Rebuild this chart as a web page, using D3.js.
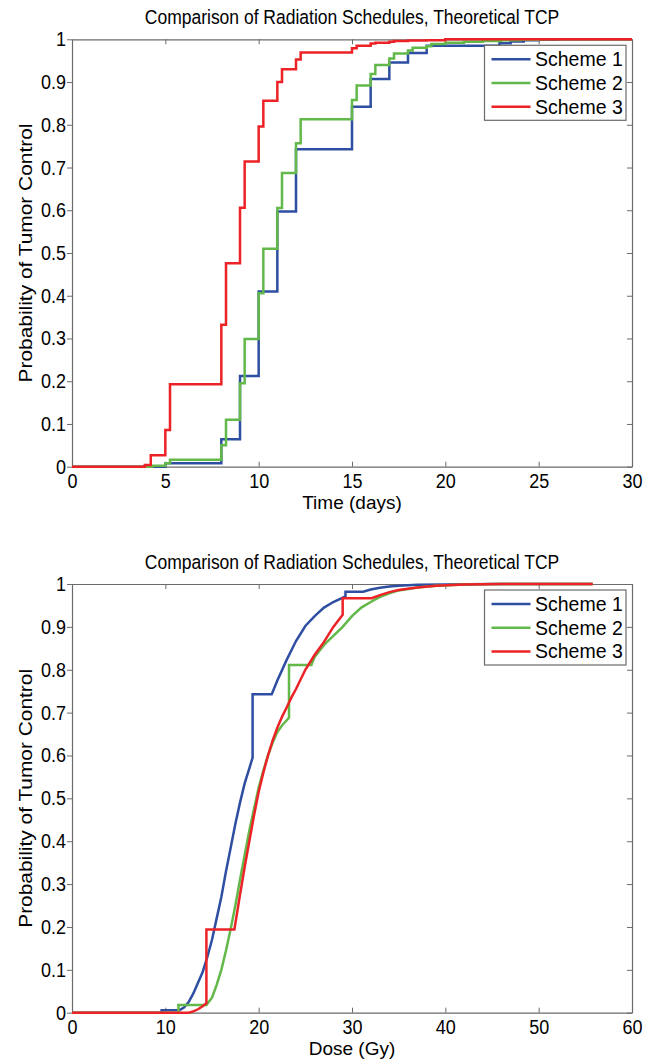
<!DOCTYPE html>
<html>
<head>
<meta charset="utf-8">
<script src="https://cdn.jsdelivr.net/npm/d3@7"></script>
<style>
  body { margin: 0; background: #fff; }
  svg text { font-family: "Liberation Sans", Arial, Helvetica, sans-serif; fill: #000; }
</style>
</head>
<body>
<svg id="chart" width="655" height="1060"></svg>
<script>
'use strict';

// ---- data ----
const titleText = 'Comparison of Radiation Schedules, Theoretical TCP';
const schemeNames = ['Scheme 1', 'Scheme 2', 'Scheme 3'];
const schemeColors = ['#2e4ea2', '#62b848', '#ec2227'];
const yTicks = [0, 0.1, 0.2, 0.3, 0.4, 0.5, 0.6, 0.7, 0.8, 0.9, 1];
const timeTicks = [0, 5, 10, 15, 20, 25, 30];
const doseTicks = [0, 10, 20, 30, 40, 50, 60];

// top panel: step functions over time (days)
const time1 = [0, 5.0, 8.0, 9.0, 10.0, 11.0, 12.0, 15.0, 16.0, 17.0, 18.0, 19.0, 22.9, 23.5, 24.2, 25.0, 26.0, 30];
const tcpTime1 = [0, 0.008, 0.064, 0.212, 0.41, 0.597, 0.743, 0.842, 0.907, 0.946, 0.968, 0.985, 0.991, 0.995, 0.998, 0.999, 1.0, 1.0];
const time2 = [0, 4.3, 5.0, 5.25, 8.0, 8.25, 9.0, 9.25, 10.0, 10.25, 11.0, 11.25, 12.0, 12.25, 15.0, 15.25, 16.0, 16.25, 17.0, 17.25, 18.0, 18.25, 19.0, 19.25, 20.0, 21.0, 22.0, 23.0, 24.0, 25.0, 30];
const tcpTime2 = [0, 0.002, 0.008, 0.016, 0.05, 0.11, 0.195, 0.299, 0.406, 0.51, 0.605, 0.687, 0.757, 0.813, 0.858, 0.892, 0.919, 0.940, 0.955, 0.967, 0.974, 0.980, 0.984, 0.989, 0.992, 0.994, 0.996, 0.998, 0.999, 1.0, 1.0];
const time3 = [0, 3.9, 4.22, 5.0, 5.25, 8.0, 8.25, 9.0, 9.25, 10.0, 10.25, 11.0, 11.25, 12.0, 12.25, 15.0, 15.25, 16.0, 16.25, 17.0, 17.25, 18.0, 19.0, 20.0, 30];
const tcpTime3 = [0, 0.004, 0.027, 0.086, 0.193, 0.332, 0.476, 0.606, 0.714, 0.796, 0.856, 0.900, 0.930, 0.953, 0.969, 0.979, 0.985, 0.990, 0.992, 0.9945, 0.996, 0.997, 0.998, 1.0, 1.0];

// bottom panel: TCP over dose (Gy), repeated x = jump
const dose1 = [0, 9.6, 9.6, 11.5, 12.0, 12.5, 13.0, 13.5, 14.0, 14.5, 15.0, 15.5, 16.0, 16.5, 17.0, 17.5, 18.0, 18.5, 19.0, 19.35, 19.35, 21.4, 22.0, 23.0, 24.0, 25.0, 26.0, 27.0, 28.0, 29.3, 29.3, 31.2, 32.0, 33.0, 34.0, 35.0, 37.0, 40.0, 45.0, 55.7];
const tcpDose1 = [0, 0, 0.006, 0.006, 0.012, 0.025, 0.045, 0.07, 0.095, 0.13, 0.17, 0.22, 0.27, 0.33, 0.385, 0.44, 0.49, 0.535, 0.57, 0.595, 0.743, 0.743, 0.775, 0.823, 0.867, 0.902, 0.925, 0.945, 0.958, 0.971, 0.982, 0.982, 0.987, 0.991, 0.994, 0.996, 0.998, 0.999, 1.0, 1.0];
const dose2 = [0, 11.4, 11.4, 14.4, 14.5, 15.0, 15.5, 16.0, 16.5, 17.0, 17.5, 18.0, 18.5, 19.0, 19.5, 20.0, 20.5, 21.0, 21.5, 22.0, 22.5, 23.25, 23.25, 25.65, 26.0, 27.0, 28.0, 29.0, 30.0, 31.0, 32.0, 33.0, 34.0, 35.0, 37.0, 39.0, 42.0, 46.0, 55.8];
const tcpDose2 = [0, 0, 0.018, 0.018, 0.021, 0.035, 0.065, 0.1, 0.145, 0.195, 0.25, 0.31, 0.368, 0.425, 0.475, 0.525, 0.565, 0.6, 0.63, 0.655, 0.67, 0.688, 0.811, 0.811, 0.83, 0.858, 0.879, 0.9, 0.925, 0.945, 0.958, 0.97, 0.978, 0.985, 0.992, 0.996, 0.999, 1.0, 1.0];
const dose3 = [0, 12.5, 13.0, 13.5, 14.0, 14.4, 14.4, 17.4, 18.0, 18.5, 19.0, 19.5, 20.0, 20.5, 21.0, 21.5, 22.0, 22.5, 23.0, 23.5, 24.0, 25.0, 26.0, 27.0, 28.0, 29.0, 29.0, 32.1, 33.0, 34.0, 35.0, 37.0, 39.0, 42.0, 46.0, 55.8];
const tcpDose3 = [0, 0, 0.003, 0.008, 0.015, 0.022, 0.194, 0.194, 0.275, 0.34, 0.4, 0.46, 0.515, 0.56, 0.6, 0.635, 0.665, 0.69, 0.712, 0.735, 0.755, 0.8, 0.835, 0.865, 0.9, 0.928, 0.967, 0.967, 0.974, 0.981, 0.986, 0.992, 0.996, 0.999, 1.0, 1.0];

const zip = (xs, ys) => xs.map((x, i) => [x, ys[i]]);

const svg = d3.select('#chart');
const axisColor = '#6b6b6b';
const stretchY = 1.13;   // the reference glyphs are a bit taller than wide

// move x/y into a transform so the glyphs can be stretched vertically
function stretch (sel, sy)
{
    sel.each(function ()
    {
        const t = d3.select(this);
        const x = +t.attr('x') || 0;
        const y = +t.attr('y') || 0;
        t.attr('x', null).attr('y', null)
         .attr('transform', `translate(${x},${y}) scale(1,${sy})`);
    });
}

function drawPanel (cfg)
{
    const left = 72, right = 632;
    const x = d3.scaleLinear().domain(cfg.xDomain).range([left, right]);
    const y = d3.scaleLinear().domain([0, 1]).range([cfg.bottom, cfg.top]);
    const g = svg.append('g');

    // box axes, MATLAB style
    const fmt = d3.format('~g');
    const bottomAxis = g.append('g').attr('transform', `translate(0,${cfg.bottom})`)
        .call(d3.axisBottom(x).tickValues(cfg.xTicks).tickSizeInner(-5).tickSizeOuter(0).tickPadding(6.5).tickFormat(fmt));
    const leftAxis = g.append('g').attr('transform', `translate(${left},0)`)
        .call(d3.axisLeft(y).tickValues(yTicks).tickSizeInner(5).tickSizeOuter(0).tickPadding(1).tickFormat(fmt));
    const topAxis = g.append('g').attr('transform', `translate(0,${cfg.top})`)
        .call(d3.axisTop(x).tickValues(cfg.xTicks).tickSizeInner(-5).tickSizeOuter(0).tickFormat(''));
    const rightAxis = g.append('g').attr('transform', `translate(${right},0)`)
        .call(d3.axisRight(y).tickValues(yTicks).tickSizeInner(-5).tickSizeOuter(0).tickFormat(''));

    [bottomAxis, leftAxis, topAxis, rightAxis].forEach(a =>
    {
        a.select('.domain').attr('stroke', axisColor).attr('stroke-width', 1.2);
        a.selectAll('.tick line').attr('stroke', axisColor).attr('stroke-width', 1);
        a.selectAll('.tick text').style('font-size', '18px').attr('fill', '#000');
    });
    stretch(bottomAxis.selectAll('.tick text'), stretchY);
    stretch(leftAxis.selectAll('.tick text'), stretchY);

    // lines
    const line = d3.line().x(d => x(d[0])).y(d => y(d[1])).curve(cfg.curve);
    cfg.series.forEach((s, i) =>
    {
        g.append('path')
            .datum(s)
            .attr('fill', 'none')
            .attr('stroke', schemeColors[i])
            .attr('stroke-width', 2.5)
            .attr('stroke-linejoin', 'miter')
            .attr('d', line);
    });

    // title and labels
    g.append('text')
        .attr('x', (left + right) / 2).attr('y', cfg.top - 15.5)
        .attr('text-anchor', 'middle').style('font-size', '17.5px')
        .text(titleText)
        .call(stretch, 1.16);
    g.append('text')
        .attr('x', (left + right) / 2).attr('y', cfg.bottom + 42.5)
        .attr('text-anchor', 'middle').style('font-size', '19px')
        .text(cfg.xLabel);
    g.append('text')
        .attr('transform', `translate(31.5,${(cfg.top + cfg.bottom) / 2}) rotate(-90) scale(${stretchY},1)`)
        .attr('text-anchor', 'middle').style('font-size', '18.5px')
        .text('Probability of Tumor Control');

    // legend
    const lg = g.append('g').attr('transform', `translate(484.5,${cfg.top + 6})`);
    lg.append('rect')
        .attr('width', 141.5).attr('height', 75)
        .attr('fill', '#fff').attr('stroke', axisColor).attr('stroke-width', 1.2);
    schemeNames.forEach((name, i) =>
    {
        const cy = 14 + i * 23.7;
        lg.append('line')
            .attr('x1', 7).attr('x2', 46).attr('y1', cy).attr('y2', cy)
            .attr('stroke', schemeColors[i]).attr('stroke-width', 2.5);
        lg.append('text')
            .attr('x', 50.5).attr('y', cy + 7)
            .style('font-size', '19.5px')
            .text(name)
            .call(stretch, 1.06);
    });
}

drawPanel({
    top: 39.3, bottom: 466.7,
    xDomain: [0, 30], xTicks: timeTicks, xLabel: 'Time (days)',
    curve: d3.curveStepAfter,
    series: [zip(time1, tcpTime1), zip(time2, tcpTime2), zip(time3, tcpTime3)]
});

drawPanel({
    top: 584, bottom: 1012.7,
    xDomain: [0, 60], xTicks: doseTicks, xLabel: 'Dose (Gy)',
    curve: d3.curveLinear,
    series: [zip(dose1, tcpDose1), zip(dose2, tcpDose2), zip(dose3, tcpDose3)]
});
</script>
</body>
</html>
